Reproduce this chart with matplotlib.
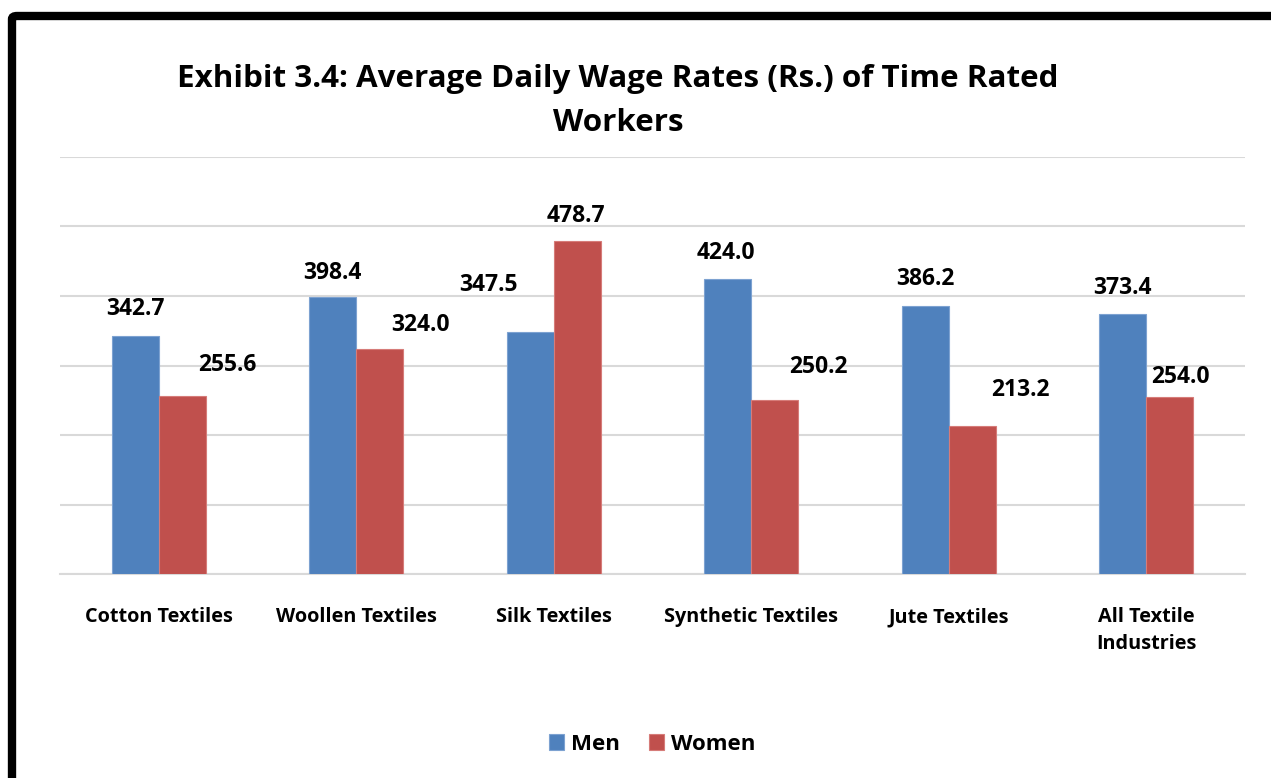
import matplotlib
matplotlib.use("Agg")
import numpy as np
from matplotlib import pyplot as plt
from matplotlib.patches import FancyBboxPatch

# data
categories = ["Cotton Textiles", "Woollen Textiles", "Silk Textiles",
              "Synthetic Textiles", "Jute Textiles", "All Textile\nIndustries"]
men = [342.7, 398.4, 347.5, 424.0, 386.2, 373.4]
women = [255.6, 324.0, 478.7, 250.2, 213.2, 254.0]

# label nudges (pixels) relative to top centre of each bar, as placed in the original
men_offsets = [(0, 27), (0, 24), (-42, 47), (-2, 26), (0, 27), (0, 26)]
women_offsets = [(45, 31), (41, 24), (-1, 25), (44, 33), (48, 36), (11, 20)]

BLUE = "#4F81BD"
RED = "#C0504D"
W, H = 1271, 778

plt.rcParams["font.family"] = ["Open Sans", "DejaVu Sans"]
fig = plt.figure(figsize=(W / 100, H / 100), dpi=100)

# outer frame, running off the right and bottom edges
frame = FancyBboxPatch((12 / W, -0.2), 1.2, 1 - 16 / H + 0.2,
                       boxstyle="round,pad=0,rounding_size=0.004",
                       transform=fig.transFigure, fill=False,
                       edgecolor="black", linewidth=6, clip_on=False)
fig.patches.append(frame)

ax = fig.add_axes([60 / W, 1 - 574 / H, (1245 - 60) / W, (574 - 157) / H])
x = np.arange(len(categories))
bw = 0.237
b1 = ax.bar(x - bw / 2, men, bw, color=BLUE, edgecolor="#7da2d1", linewidth=0.8,
            label="Men", zorder=3)
b2 = ax.bar(x + bw / 2, women, bw, color=RED, edgecolor="#d67c79", linewidth=0.8,
            label="Women", zorder=3)

for bars, vals, offs in [(b1, men, men_offsets), (b2, women, women_offsets)]:
    for rect, v, (dx, dy) in zip(bars, vals, offs):
        ax.annotate(f"{v:.1f}", (rect.get_x() + rect.get_width() / 2, v),
                    xytext=(dx * 0.72, dy * 0.72), textcoords="offset points",
                    ha="center", va="center", fontsize=16.5, fontweight="bold",
                    color="black", zorder=4)

ax.set_xlim(-0.5, len(categories) - 0.5)
ax.set_ylim(0, 600)
ax.set_yticks(np.arange(0, 601, 100))
ax.yaxis.grid(True, color="#d9d9d9", linewidth=1.5, zorder=0)
ax.set_yticklabels([])
ax.tick_params(axis="y", length=0)
ax.tick_params(axis="x", length=0, pad=24)
ax.set_xticks(x)
ax.set_xticklabels(categories, fontsize=14.3, fontweight="bold", linespacing=1.45,
                   va="top")
for s in ["top", "right", "left"]:
    ax.spines[s].set_visible(False)
ax.spines["bottom"].set_color("#d9d9d9")
ax.spines["bottom"].set_linewidth(1.5)

fig.text(618 / W, 1 - 101 / H,
         "Exhibit 3.4: Average Daily Wage Rates (Rs.) of Time Rated\nWorkers",
         ha="center", va="center", fontsize=22.6, fontweight="bold",
         linespacing=1.65)

fig.legend(handles=[b1, b2], labels=["Men", "Women"], loc="center",
           bbox_to_anchor=(652 / W, 1 - 744 / H), ncol=2, frameon=False,
           prop={"size": 16, "weight": "bold"}, handlelength=0.7,
           handleheight=0.7, handletextpad=0.3, columnspacing=1.3)

fig.savefig("out.png", dpi=100)
